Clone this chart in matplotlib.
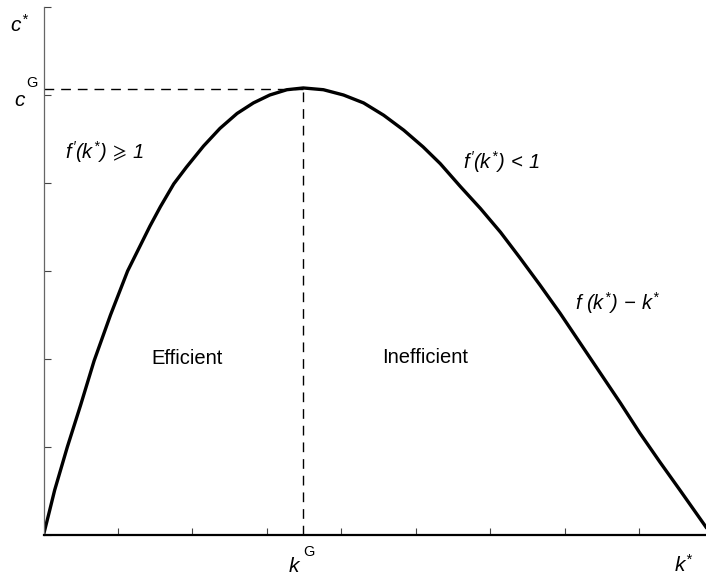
import matplotlib
matplotlib.use("Agg")
import matplotlib.pyplot as plt

plt.rcParams['font.family'] = ['Liberation Sans', 'DejaVu Sans']
plt.rcParams['mathtext.fontset'] = 'custom'
plt.rcParams['mathtext.rm'] = 'Liberation Sans:italic'
plt.rcParams['mathtext.it'] = 'Liberation Sans:italic'
plt.rcParams['mathtext.sf'] = 'Liberation Sans'

# points (k*, c*)
k_star = [0.00, 0.08, 0.15, 0.32, 0.50, 0.68, 0.90, 1.13, 1.43, 1.57, 1.75, 1.92, 2.15,
          2.37, 2.60, 2.82, 3.04, 3.27, 3.49, 3.76, 4.03, 4.30, 4.57, 4.84, 5.10,
          5.33, 5.60, 5.87, 6.14, 6.40, 6.67, 6.94, 7.21, 7.48, 7.75, 8.01, 8.28,
          8.55, 8.90]
c_star = [0.00, 0.27, 0.51, 1.00, 1.48, 1.98, 2.50, 3.00, 3.51, 3.73, 3.99, 4.18, 4.42,
          4.62, 4.79, 4.91, 5.00, 5.06, 5.08, 5.06, 5.00, 4.91, 4.77, 4.60, 4.41,
          4.22, 3.96, 3.71, 3.44, 3.15, 2.84, 2.52, 2.18, 1.84, 1.50, 1.16, 0.83,
          0.51, 0.09]
k_gold = 3.49
c_gold = 5.07
x_ticks = [1, 2, 3, 4, 5, 6, 7, 8]
y_ticks = [0, 1, 2, 3, 4, 5, 6]

fig = plt.figure(figsize=(7.06, 5.76), dpi=100)
ax = fig.add_axes([43.5 / 706, 1 - 535 / 576, 1 - 43.5 / 706, 528 / 576])

ax.plot(k_star, c_star, color='black', lw=2.4, solid_joinstyle='round')
ax.plot([0, k_gold], [c_gold, c_gold], color='black', lw=1, dashes=(7, 5))
ax.plot([k_gold, k_gold], [0, c_gold], color='black', lw=1, dashes=(7, 5))

ax.set_xlim(0, 8.9)
ax.set_ylim(0, 6)
ax.set_xticks(x_ticks)
ax.set_yticks(y_ticks)
ax.set_xticklabels([])
ax.set_yticklabels([])
ax.tick_params(direction='in', length=5, width=0.8, colors='#444444')
for s in ['top', 'right']:
    ax.spines[s].set_visible(False)
ax.spines['bottom'].set_linewidth(1.6)
ax.spines['bottom'].set_color('black')
ax.spines['left'].set_linewidth(0.9)
ax.spines['left'].set_color('#666666')

fs = 14.5
ax.text(1.93, 2.01, 'Efficient', fontsize=fs, ha='center', va='center')
ax.text(5.13, 2.02, 'Inefficient', fontsize=fs, ha='center', va='center')
ax.text(0.29, 4.35, r'$f^{\prime}(k^{*})\,\geqslant\,1$', fontsize=fs,
        ha='left', va='center')
ax.text(5.64, 4.24, r'$f^{\prime}(k^{*})\,<\,1$', fontsize=fs,
        ha='left', va='center')
ax.text(7.14, 2.64, r'$f\,\,(k^{*})\,-\,k^{*}$', fontsize=fs,
        ha='left', va='center')

# axis labels
ax.text(-0.32, 5.8, r'$c^{*}$', fontsize=15, ha='center', va='center', clip_on=False)
ax.text(-0.32, 4.94, r'$c$', fontsize=15, ha='center', va='center', clip_on=False)
ax.text(-0.15, 5.14, 'G', fontsize=10.5, ha='center', va='center', clip_on=False)
ax.text(3.38, -0.36, r'$k$', fontsize=15, ha='center', va='center', clip_on=False)
ax.text(3.56, -0.19, 'G', fontsize=10.5, ha='center', va='center', clip_on=False)
ax.text(8.61, -0.34, r'$k^{*}$', fontsize=15, ha='center', va='center', clip_on=False)

fig.savefig('out.png', dpi=100)
